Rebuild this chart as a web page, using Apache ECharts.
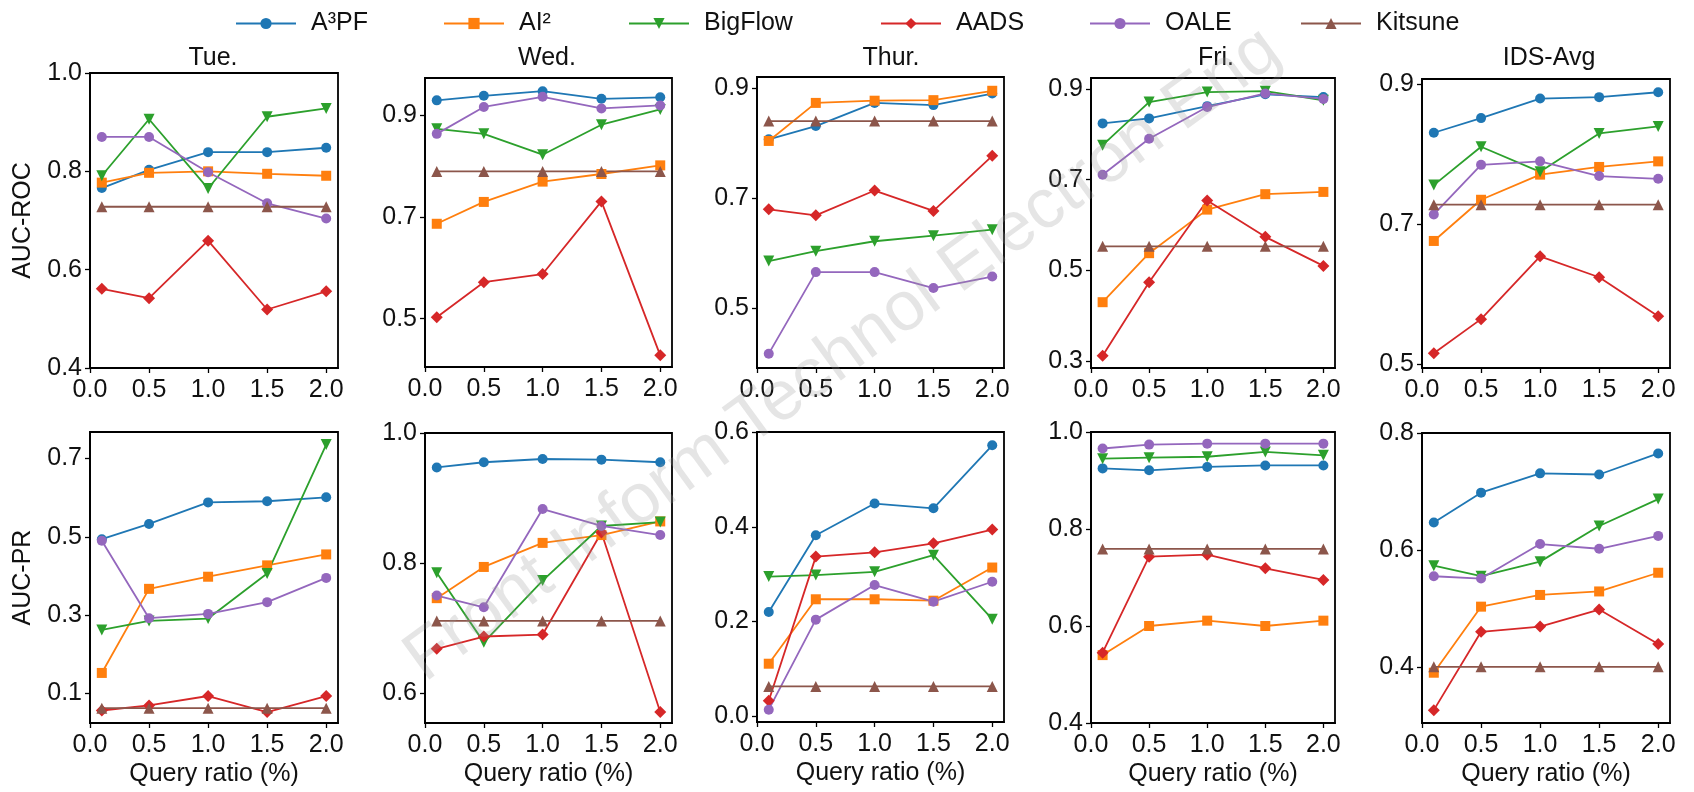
<!DOCTYPE html>
<html>
<head>
<meta charset="utf-8">
<script src="https://cdn.jsdelivr.net/npm/echarts@6/dist/echarts.min.js"></script>
<style>
html, body { margin: 0; padding: 0; background: #fff; }
#main { width: 1694px; height: 792px; }
</style>
</head>
<body>
<div id="main"></div>
<script>
// data: rows are Tue., Wed., Thur., Fri., IDS-Avg
var days = ['Tue.', 'Wed.', 'Thur.', 'Fri.', 'IDS-Avg'];
var queryRatio = [0.1, 0.5, 1.0, 1.5, 2.0];
var methods = ['A³PF', 'AI²', 'BigFlow', 'AADS', 'OALE', 'Kitsune'];

var a3pfRoc = [
    [0.766, 0.803, 0.839, 0.839, 0.848],
    [0.930, 0.939, 0.948, 0.933, 0.936],
    [0.807, 0.831, 0.873, 0.869, 0.890],
    [0.824, 0.835, 0.862, 0.888, 0.882],
    [0.831, 0.852, 0.880, 0.882, 0.889]
];
var ai2Roc = [
    [0.777, 0.797, 0.800, 0.795, 0.791],
    [0.687, 0.730, 0.770, 0.785, 0.802],
    [0.804, 0.873, 0.877, 0.878, 0.895],
    [0.430, 0.538, 0.634, 0.668, 0.673],
    [0.676, 0.735, 0.771, 0.782, 0.790]
];
var bigflowRoc = [
    [0.791, 0.906, 0.765, 0.911, 0.928],
    [0.874, 0.864, 0.823, 0.882, 0.912],
    [0.586, 0.604, 0.622, 0.632, 0.643],
    [0.776, 0.871, 0.893, 0.895, 0.875],
    [0.756, 0.811, 0.775, 0.830, 0.840]
];
var aadsRoc = [
    [0.561, 0.542, 0.659, 0.519, 0.556],
    [0.503, 0.572, 0.588, 0.731, 0.428],
    [0.680, 0.669, 0.714, 0.677, 0.777],
    [0.312, 0.474, 0.654, 0.574, 0.510],
    [0.515, 0.564, 0.654, 0.624, 0.568]
];
var oaleRoc = [
    [0.870, 0.870, 0.798, 0.735, 0.704],
    [0.864, 0.917, 0.937, 0.914, 0.920],
    [0.418, 0.566, 0.566, 0.537, 0.558],
    [0.711, 0.790, 0.860, 0.890, 0.878],
    [0.714, 0.785, 0.790, 0.769, 0.765]
];
var kitsuneRoc = [
    [0.728, 0.728, 0.728, 0.728, 0.728],
    [0.790, 0.790, 0.790, 0.790, 0.790],
    [0.840, 0.840, 0.840, 0.840, 0.840],
    [0.553, 0.553, 0.553, 0.553, 0.553],
    [0.728, 0.728, 0.728, 0.728, 0.728]
];

var a3pfPr = [
    [0.494, 0.533, 0.588, 0.591, 0.601],
    [0.947, 0.955, 0.960, 0.959, 0.955],
    [0.220, 0.382, 0.449, 0.439, 0.572],
    [0.925, 0.921, 0.928, 0.931, 0.931],
    [0.647, 0.698, 0.731, 0.729, 0.765]
];
var ai2Pr = [
    [0.152, 0.367, 0.398, 0.427, 0.455],
    [0.746, 0.794, 0.831, 0.843, 0.864],
    [0.111, 0.247, 0.247, 0.244, 0.314],
    [0.540, 0.600, 0.611, 0.600, 0.611],
    [0.390, 0.503, 0.523, 0.529, 0.561]
];
var bigflowPr = [
    [0.262, 0.285, 0.291, 0.406, 0.736],
    [0.785, 0.678, 0.773, 0.857, 0.863],
    [0.295, 0.298, 0.305, 0.340, 0.205],
    [0.945, 0.947, 0.949, 0.959, 0.952],
    [0.573, 0.555, 0.580, 0.641, 0.687]
];
var aadsPr = [
    [0.056, 0.069, 0.093, 0.052, 0.093],
    [0.668, 0.687, 0.690, 0.847, 0.571],
    [0.033, 0.337, 0.346, 0.365, 0.394],
    [0.545, 0.743, 0.747, 0.719, 0.695],
    [0.326, 0.460, 0.469, 0.498, 0.439]
];
var oalePr = [
    [0.490, 0.292, 0.303, 0.333, 0.395],
    [0.750, 0.732, 0.883, 0.857, 0.843],
    [0.014, 0.204, 0.277, 0.242, 0.284],
    [0.966, 0.974, 0.976, 0.976, 0.976],
    [0.555, 0.551, 0.610, 0.602, 0.624]
];
var kitsunePr = [
    [0.062, 0.062, 0.062, 0.062, 0.062],
    [0.711, 0.711, 0.711, 0.711, 0.711],
    [0.063, 0.063, 0.063, 0.063, 0.063],
    [0.759, 0.759, 0.759, 0.759, 0.759],
    [0.400, 0.400, 0.400, 0.400, 0.400]
];

// tick labels
var xTicks = [0.0, 0.5, 1.0, 1.5, 2.0];
var rocTicks = [[0.4, 0.6, 0.8, 1.0], [0.5, 0.7, 0.9], [0.5, 0.7, 0.9], [0.3, 0.5, 0.7, 0.9], [0.5, 0.7, 0.9]];
var prTicks = [[0.1, 0.3, 0.5, 0.7], [0.6, 0.8, 1.0], [0.0, 0.2, 0.4, 0.6], [0.4, 0.6, 0.8, 1.0], [0.4, 0.6, 0.8]];
var rocRange = [[0.4, 1.0], [0.405, 0.974], [0.392, 0.92], [0.285, 0.924], [0.494, 0.908]];
var prRange = [[0.024, 0.768], [0.554, 1.0], [-0.012, 0.6], [0.4, 1.0], [0.304, 0.8]];

// layout
var colLeft = [90, 425, 757, 1091, 1422];
var colWidth = [248, 247, 247, 244, 248];
var rowTop = [[73, 78, 77, 78, 79], [432, 433, 432, 432, 433]];
var rowBottom = [[368, 367, 368, 368, 368], [723, 723, 722, 723, 723]];
var titleX = [213, 547, 891, 1216, 1549];
var legendLeft = [230, 438, 623, 875, 1084, 1295];

var font = 'Liberation Sans, Arial, sans-serif';
var ink = '#111';
var colors = ['#1f77b4', '#ff7f0e', '#2ca02c', '#d62728', '#9467bd', '#8c564b'];
var symbols = ['circle', 'rect', 'triangle', 'diamond', 'circle', 'triangle'];
var symbolRot = [0, 0, 180, 0, 0, 0];
var symbolSizes = [10, 10, 11, 12, 10, 11];

var metricData = [
    [a3pfRoc, ai2Roc, bigflowRoc, aadsRoc, oaleRoc, kitsuneRoc],
    [a3pfPr, ai2Pr, bigflowPr, aadsPr, oalePr, kitsunePr]
];
var metricTicks = [rocTicks, prTicks];
var metricRange = [rocRange, prRange];
var metricName = ['AUC-ROC', 'AUC-PR'];

var myChart = echarts.init(document.getElementById('main'));

var grids = [], xAxes = [], yAxes = [], series = [];
for (var r = 0; r < 2; r++) {
    for (var c = 0; c < 5; c++) {
        var idx = r * 5 + c;
        grids.push({
            left: colLeft[c],
            top: rowTop[r][c],
            width: colWidth[c],
            height: rowBottom[r][c] - rowTop[r][c],
            show: true,
            borderColor: '#000',
            borderWidth: 1.8,
            outerBoundsMode: 'none'
        });
        xAxes.push({
            gridIndex: idx,
            type: 'value',
            min: 0,
            max: 2.1,
            name: r === 1 ? 'Query ratio (%)' : '',
            nameLocation: 'middle',
            nameGap: 39,
            nameTextStyle: {fontSize: 25, color: ink, fontFamily: font},
            axisLine: {show: true, onZero: false, lineStyle: {color: '#000', width: 1.8}},
            axisTick: {show: true, length: 5, customValues: xTicks, lineStyle: {color: '#000', width: 1.3}},
            axisLabel: {
                customValues: xTicks,
                margin: 10,
                fontSize: 25,
                color: ink,
                fontFamily: font,
                formatter: function (v) { return v.toFixed(1); }
            },
            splitLine: {show: false}
        });
        yAxes.push({
            gridIndex: idx,
            type: 'value',
            min: metricRange[r][c][0],
            max: metricRange[r][c][1],
            name: c === 0 ? metricName[r] : '',
            nameLocation: 'middle',
            nameGap: 54,
            nameTextStyle: {fontSize: 25, color: ink, fontFamily: font},
            axisLine: {show: true, onZero: false, lineStyle: {color: '#000', width: 1.8}},
            axisTick: {show: true, length: 5, customValues: metricTicks[r][c], lineStyle: {color: '#000', width: 1.3}},
            axisLabel: {
                customValues: metricTicks[r][c],
                margin: 8,
                fontSize: 25,
                color: ink,
                fontFamily: font,
                formatter: function (v) { return v.toFixed(1); }
            },
            splitLine: {show: false}
        });
        for (var k = 0; k < methods.length; k++) {
            var vals = metricData[r][k][c];
            series.push({
                name: methods[k],
                type: 'line',
                xAxisIndex: idx,
                yAxisIndex: idx,
                data: queryRatio.map(function (x, i) { return [x, vals[i]]; }),
                symbol: symbols[k],
                symbolSize: symbolSizes[k],
                symbolRotate: symbolRot[k],
                lineStyle: {color: colors[k], width: 1.8},
                itemStyle: {color: colors[k]},
                emphasis: {disabled: true}
            });
        }
    }
}

var graphics = days.map(function (d, c) {
    return {
        type: 'text',
        x: titleX[c],
        y: 58,
        style: {
            text: d,
            fontSize: 25,
            fontFamily: font,
            fill: ink,
            align: 'center',
            verticalAlign: 'middle',
            textAlign: 'center',
            textVerticalAlign: 'middle'
        }
    };
});
// journal watermark
graphics.push({
    type: 'text',
    x: 843,
    y: 355,
    rotation: 36 * Math.PI / 180,
    z: 100,
    style: {
        text: 'Front Inform Technol Electron Eng',
        fontSize: 70,
        fontFamily: font,
        fill: 'rgba(150,150,150,0.25)',
        align: 'center',
        verticalAlign: 'middle',
        textAlign: 'center',
        textVerticalAlign: 'middle'
    }
});

var option = {
    animation: false,
    backgroundColor: '#fff',
    legend: methods.map(function (m, i) {
        return {
            data: [m],
            left: legendLeft[i],
            top: 6,
            itemWidth: 60,
            itemHeight: 14,
            selectedMode: false,
            textStyle: {fontSize: 25, color: ink, fontFamily: font, padding: [0, 0, 0, 10]}
        };
    }),
    grid: grids,
    xAxis: xAxes,
    yAxis: yAxes,
    series: series,
    graphic: graphics
};
myChart.setOption(option);
</script>
</body>
</html>
